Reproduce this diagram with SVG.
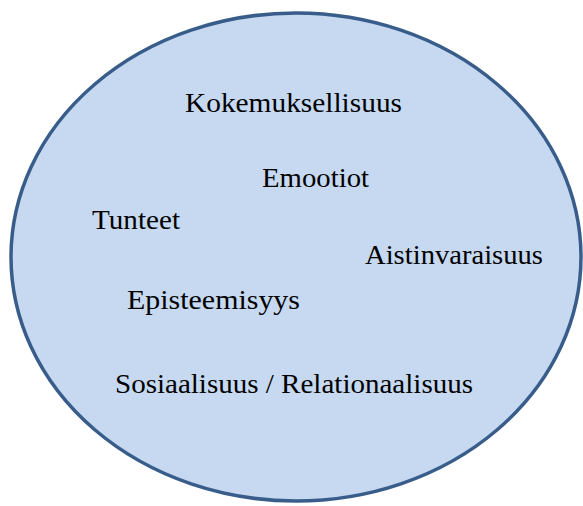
<svg xmlns="http://www.w3.org/2000/svg" width="583" height="506" viewBox="0 0 583 506">
<style>
.t{font-family:"Liberation Serif","Times New Roman",serif;font-size:28px;fill:#000}
</style>
<rect width="583" height="506" fill="#fff"/>
<g id="ellipse">
<ellipse cx="296" cy="257" rx="285" ry="244" fill="#C6D9F1" stroke="#385D8A" stroke-width="3.5"/>
</g>
<g id="labels">
<text class="t" x="185" y="112" textLength="217" lengthAdjust="spacingAndGlyphs">Kokemuksellisuus</text>
<text class="t" x="262" y="187" textLength="107" lengthAdjust="spacingAndGlyphs">Emootiot</text>
<text class="t" x="92" y="229" textLength="88" lengthAdjust="spacingAndGlyphs">Tunteet</text>
<text class="t" x="365" y="264" textLength="178" lengthAdjust="spacingAndGlyphs">Aistinvaraisuus</text>
<text class="t" x="127" y="309" textLength="173" lengthAdjust="spacingAndGlyphs">Episteemisyys</text>
<text class="t" x="115" y="393" textLength="358" lengthAdjust="spacingAndGlyphs">Sosiaalisuus / Relationaalisuus</text>
</g>
</svg>
